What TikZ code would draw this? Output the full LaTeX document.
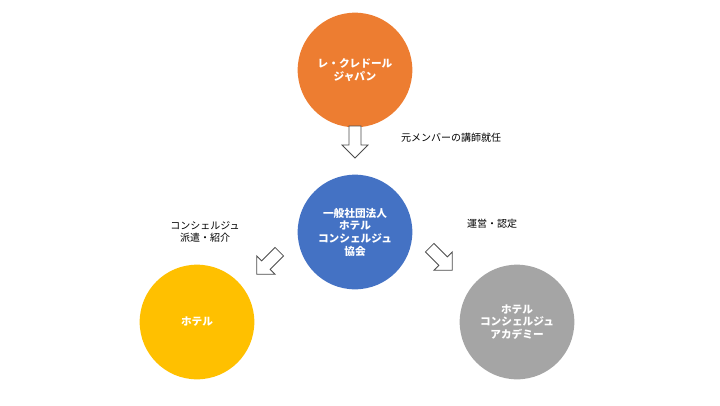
\documentclass[tikz,border=0pt]{standalone}
\usepackage{fontspec}
\newfontfamily\cjk{Noto Sans CJK JP}
\begin{document}
\begin{tikzpicture}[x=0.75pt,y=-0.75pt,
  circ/.style={circle,minimum size=86pt,inner sep=0pt,text=white,font=\cjk\bfseries\fontsize{8}{9.5}\selectfont,align=center},
  barrow/.style={draw=black!70,fill=white,line width=0.6pt,line join=miter},
  lbl/.style={font=\cjk\fontsize{7.5}{9}\selectfont,align=center}]
\useasboundingbox (0,0) rectangle (720,405);
\node[circ,fill={rgb,255:red,237;green,125;blue,49}] (top) at (355,70) {レ・クレドール\\ジャパン};
\node[circ,fill={rgb,255:red,68;green,114;blue,196}] (mid) at (355,232) {一般社団法人\\ホテル\\コンシェルジュ\\協会};
\node[circ,fill={rgb,255:red,255;green,192;blue,0}] (hot) at (197,322) {ホテル};
\node[circ,fill={rgb,255:red,165;green,165;blue,165}] (aca) at (517,322) {ホテル\\コンシェルジュ\\アカデミー};
\foreach \x/\y/\a in {355/142/270, 268/263/225, 441/259/315}{
  \draw[barrow,shift={(\x,\y)},rotate=\a] (-16,-6) -- (3,-6) -- (3,-13) -- (16,0) -- (3,13) -- (3,6) -- (-16,6) -- cycle;
}
\node[lbl] (l1) at (451,138) {元メンバーの講師就任};
\node[lbl] (l2) at (205,232) {コンシェルジュ\\派遣・紹介};
\node[lbl] (l3) at (492,224) {運営・認定};
\end{tikzpicture}
\end{document}
